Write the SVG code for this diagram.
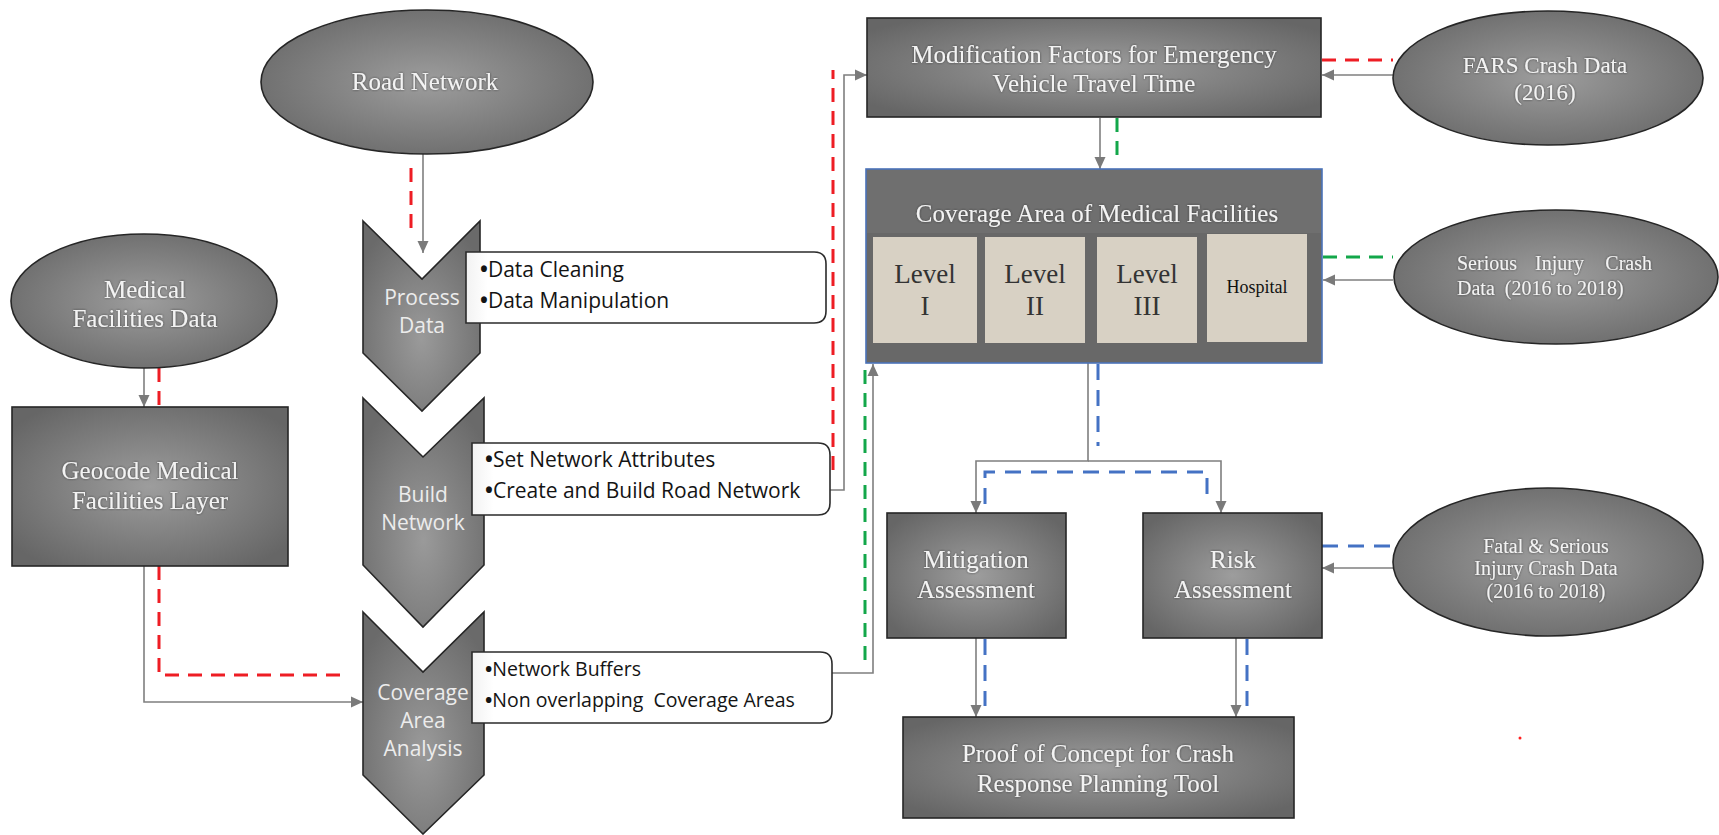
<svg xmlns="http://www.w3.org/2000/svg" width="1719" height="835" viewBox="0 0 1719 835">
<defs>
<radialGradient id="g" cx="50%" cy="50%" r="62%">
<stop offset="0" stop-color="#9d9d9d"/><stop offset="1" stop-color="#666666"/>
</radialGradient>
<radialGradient id="gc" cx="50%" cy="62%" r="65%">
<stop offset="0" stop-color="#9a9a9a"/><stop offset="1" stop-color="#6a6a6a"/>
</radialGradient>
<linearGradient id="gb" x1="0" y1="0" x2="1" y2="0">
<stop offset="0" stop-color="#f2f2f2"/><stop offset="0.06" stop-color="#ffffff"/><stop offset="1" stop-color="#ffffff"/>
</linearGradient>
<marker id="ah" viewBox="0 0 12 12" refX="12" refY="6" markerWidth="12" markerHeight="12" markerUnits="userSpaceOnUse" orient="auto">
<path d="M0,0.5 L12,6 L0,11.5 Z" fill="#7a7a7a"/>
</marker>
<filter id="sh" x="-5%" y="-20%" width="110%" height="140%">
<feDropShadow dx="0" dy="0" stdDeviation="0.8" flood-color="#333333" flood-opacity="0.8"/>
</filter>
</defs>
<style>
.node{stroke:#262626;stroke-width:1.6}
.st{font-family:"Liberation Serif","Times New Roman",serif;fill:#f3f3f3;text-anchor:middle;filter:url(#sh)}
.s25{font-size:25px}
.s23{font-size:23px}
.s20{font-size:20px}
.sa{text-anchor:start}
.ea{text-anchor:end}
.sc{font-family:"Open Sans","Noto Sans",sans-serif;fill:#ececec;text-anchor:middle;font-size:21px}
.bl{font-family:"Open Sans","Noto Sans",sans-serif;fill:#141414;font-size:21px}
.bl.sm{font-size:19.5px}
.bu{font-weight:bold}
.box{fill:url(#gb);stroke:#2b2b2b;stroke-width:1.6}
.lv{fill:#d8d1c4}
.lt{font-family:"Liberation Serif","Times New Roman",serif;fill:#333333;text-anchor:middle;font-size:27px}
.lt.hosp{font-size:18px;fill:#111111}
.conn{fill:none;stroke:#7f7f7f;stroke-width:1.6}
.arr{marker-end:url(#ah)}
.red{fill:none;stroke:#ee1d24;stroke-width:3;stroke-dasharray:14 9}
.grn{fill:none;stroke:#13a74a;stroke-width:3;stroke-dasharray:14 9}
.blu{fill:none;stroke:#4472c4;stroke-width:3;stroke-dasharray:16 10}
</style>

<g id="connectors">
<path class="red" d="M411,168 V236"/>
<path class="conn arr" d="M423,154 V253"/>
<path class="red" d="M159,368 V407"/>
<path class="conn arr" d="M144,368 V407"/>
<path class="red" d="M159,566 V675 H343"/>
<path class="conn arr" d="M144,566 V702 H363"/>
<path class="red" d="M833,470 V70"/>
<path class="conn arr" d="M830,490 H844 V75 H867"/>
<path class="grn" d="M865,660 V368"/>
<path class="conn arr" d="M832,673 H873 V364"/>
<path class="grn" d="M1117,118 V162"/>
<path class="conn arr" d="M1100,118 V169"/>
<path class="red" d="M1322,60 H1393"/>
<path class="conn arr" d="M1393,75 H1322"/>
<path class="grn" d="M1323,257 H1393"/>
<path class="conn arr" d="M1393,280 H1323"/>
<path class="blu" d="M1322,546 H1393"/>
<path class="conn arr" d="M1393,568 H1322"/>
<path class="blu" d="M1098,364 V446"/>
<path class="blu" d="M985,504 V472 H1207 V502"/>
<path class="conn arr" d="M1088,363 V461 H976 V513"/>
<path class="conn arr" d="M1088,461 H1221 V513"/>
<path class="blu" d="M985,639 V706"/>
<path class="conn arr" d="M976,638 V717"/>
<path class="blu" d="M1247,639 V706"/>
<path class="conn arr" d="M1236,638 V717"/>
</g>

<g id="road-network">
<ellipse class="node" cx="427" cy="82" rx="166" ry="72" fill="url(#g)"/>
<text class="st s25" x="425" y="90">Road Network</text>
</g>

<g id="medical-facilities-data">
<ellipse class="node" cx="144" cy="301" rx="133" ry="67" fill="url(#g)"/>
<text class="st s25" x="145" y="298">Medical</text>
<text class="st s25" x="145" y="327">Facilities Data</text>
</g>

<g id="geocode">
<rect class="node" x="12" y="407" width="276" height="159" fill="url(#g)"/>
<text class="st s25" x="150" y="479">Geocode Medical</text>
<text class="st s25" x="150" y="509">Facilities Layer</text>
</g>

<g id="process-data">
<polygon class="node" points="363,221 422,279 480,221 480,353 422,411 363,353" fill="url(#gc)"/>
<text class="sc" x="422" y="305">Process</text>
<text class="sc" x="422" y="333">Data</text>
</g>

<g id="build-network">
<polygon class="node" points="363,398 423,457 484,398 484,565 423,627 363,565" fill="url(#gc)"/>
<text class="sc" x="423" y="502">Build</text>
<text class="sc" x="423" y="530">Network</text>
</g>

<g id="coverage-area-analysis">
<polygon class="node" points="363,612 423,672 484,612 484,775 423,834 363,775" fill="url(#gc)"/>
<text class="sc" x="423" y="700">Coverage</text>
<text class="sc" x="423" y="728">Area</text>
<text class="sc" x="423" y="756">Analysis</text>
</g>

<g id="process-data-steps">
<path class="box" d="M466,252 H814 Q826,252 826,264 V311 Q826,323 814,323 H466 Z"/>
<text class="bl" x="480" y="277"><tspan class="bu">•</tspan>Data Cleaning</text>
<text class="bl" x="480" y="308"><tspan class="bu">•</tspan>Data Manipulation</text>
</g>

<g id="build-network-steps">
<path class="box" d="M472,443 H818 Q830,443 830,455 V503 Q830,515 818,515 H472 Z"/>
<text class="bl" x="485" y="467"><tspan class="bu">•</tspan>Set Network Attributes</text>
<text class="bl" x="485" y="498"><tspan class="bu">•</tspan>Create and Build Road Network</text>
</g>

<g id="coverage-analysis-steps">
<path class="box" d="M472,652 H820 Q832,652 832,664 V711 Q832,723 820,723 H472 Z"/>
<text class="bl sm" x="485" y="676"><tspan class="bu">•</tspan>Network Buffers</text>
<text class="bl sm" x="485" y="707" xml:space="preserve"><tspan class="bu">•</tspan>Non overlapping  Coverage Areas</text>
</g>

<g id="modification-factors">
<rect class="node" x="867" y="18" width="454" height="99" fill="url(#g)"/>
<text class="st s25" x="1094" y="63">Modification Factors for Emergency</text>
<text class="st s25" x="1094" y="92">Vehicle Travel Time</text>
</g>

<g id="coverage-medical-facilities">
<rect x="866" y="169" width="456" height="194" fill="#6f6f6f" stroke="#4a72b8" stroke-width="1.6"/>
<rect x="867" y="233" width="454" height="129" fill="#686868"/>
<text class="st s25" x="1097" y="222">Coverage Area of Medical Facilities</text>
<rect class="lv" x="873" y="237" width="104" height="106"/>
<rect class="lv" x="985" y="237" width="100" height="106"/>
<rect class="lv" x="1097" y="237" width="100" height="106"/>
<rect class="lv" x="1207" y="234" width="100" height="108"/>
<text class="lt" x="925" y="283">Level</text>
<text class="lt" x="925" y="315">I</text>
<text class="lt" x="1035" y="283">Level</text>
<text class="lt" x="1035" y="315">II</text>
<text class="lt" x="1147" y="283">Level</text>
<text class="lt" x="1147" y="315">III</text>
<text class="lt hosp" x="1257" y="293">Hospital</text>
</g>

<g id="fars">
<ellipse class="node" cx="1548" cy="78" rx="155" ry="67" fill="url(#g)"/>
<text class="st s23" x="1545" y="73">FARS Crash Data</text>
<text class="st s23" x="1545" y="100">(2016)</text>
</g>

<g id="serious-injury">
<ellipse class="node" cx="1556" cy="277" rx="162" ry="67" fill="url(#g)"/>
<text class="st s20 sa" x="1457" y="270">Serious</text>
<text class="st s20 sa" x="1535" y="270">Injury</text>
<text class="st s20 ea" x="1652" y="270">Crash</text>
<text class="st s20 sa" x="1457" y="295" xml:space="preserve">Data  (2016 to 2018)</text>
</g>

<g id="mitigation">
<rect class="node" x="887" y="513" width="179" height="125" fill="url(#g)"/>
<text class="st s25" x="976" y="568">Mitigation</text>
<text class="st s25" x="976" y="598">Assessment</text>
</g>

<g id="risk">
<rect class="node" x="1143" y="513" width="179" height="125" fill="url(#g)"/>
<text class="st s25" x="1233" y="568">Risk</text>
<text class="st s25" x="1233" y="598">Assessment</text>
</g>

<g id="fatal-serious">
<ellipse class="node" cx="1548" cy="562" rx="155" ry="74" fill="url(#g)"/>
<text class="st s20" x="1546" y="553">Fatal &amp; Serious</text>
<text class="st s20" x="1546" y="575">Injury Crash Data</text>
<text class="st s20" x="1546" y="598">(2016 to 2018)</text>
</g>

<g id="proof-of-concept">
<rect class="node" x="903" y="717" width="391" height="101" fill="url(#g)"/>
<text class="st s25" x="1098" y="762">Proof of Concept for Crash</text>
<text class="st s25" x="1098" y="792">Response Planning Tool</text>
</g>

<circle cx="1520" cy="738" r="1.5" fill="#ff2020"/>
</svg>
